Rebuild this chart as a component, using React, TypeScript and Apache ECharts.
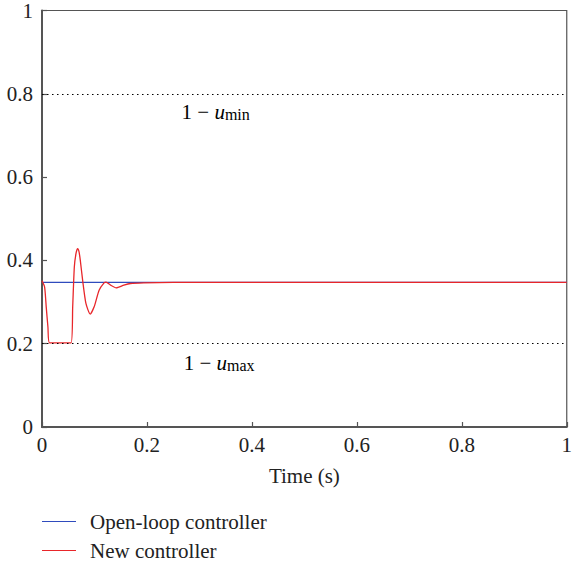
import React, { useEffect, useRef } from "react";
import * as echarts from "echarts";

// Open-loop controller (constant)
const timeOpenLoop = [0, 1];
const valueOpenLoop = [0.347, 0.347];

// New controller (transient)
const timeNew = [0, 0.005, 0.008, 0.0113, 0.0145, 0.0553, 0.0585, 0.0616, 0.065, 0.068, 0.0705, 0.073, 0.0774, 0.0837, 0.0918, 0.0994, 0.1088, 0.1183, 0.122, 0.1308, 0.1415, 0.156, 0.1686, 0.194, 0.25, 1];
const valueNew = [0.351, 0.336, 0.289, 0.24, 0.202, 0.202, 0.289, 0.384, 0.418, 0.4285, 0.421, 0.4, 0.3525, 0.2966, 0.271, 0.2885, 0.3285, 0.346, 0.348, 0.3405, 0.334, 0.3405, 0.3445, 0.346, 0.347, 0.347];

// Reference levels
const levelMin = 0.8; // 1 - u_min
const levelMax = 0.2; // 1 - u_max

const seriesNames = ["Open-loop controller", "New controller"];
const FONT = "Liberation Serif";
const FS = 21;

export default function App() {
  const ref = useRef<HTMLDivElement>(null);
  useEffect(() => {
    if (!ref.current) return;
    const chart = echarts.init(ref.current, undefined, { renderer: "svg" });
    const option: any = {
      animation: false,
      backgroundColor: "#fff",
      textStyle: { fontFamily: FONT },
      grid: {
        left: 42,
        right: 3,
        top: 10,
        bottom: 138,
        show: true,
        borderColor: "#555",
        borderWidth: 1.2,
      },
      legend: {
        orient: "vertical",
        left: 42,
        top: 511,
        padding: 0,
        height: 54,
        itemWidth: 34,
        itemHeight: 14,
        itemGap: 8,
        icon: "path://M0,6 L34,6 L34,7.2 L0,7.2 Z",
        textStyle: { fontFamily: FONT, fontSize: FS, color: "#222", padding: [0, 0, 0, 9] },
        data: seriesNames,
      },
      xAxis: {
        type: "value",
        min: 0,
        max: 1,
        interval: 0.2,
        name: "Time (s)",
        nameLocation: "middle",
        nameGap: 38,
        nameTextStyle: { fontFamily: FONT, fontSize: FS, color: "#222" },
        axisLine: { show: true, lineStyle: { color: "#555", width: 2 } },
        axisTick: { show: true, inside: true, length: 5, lineStyle: { color: "#555", width: 1.2 } },
        axisLabel: { fontFamily: FONT, fontSize: FS, color: "#222", margin: 7 },
        splitLine: { show: false },
      },
      yAxis: {
        type: "value",
        min: 0,
        max: 1,
        interval: 0.2,
        axisLine: { show: true, lineStyle: { color: "#555", width: 2 } },
        axisTick: { show: true, inside: true, length: 5, lineStyle: { color: "#555", width: 1.2 } },
        axisLabel: { fontFamily: FONT, fontSize: FS, color: "#222", margin: 9 },
        splitLine: { show: false },
      },
      series: [
        {
          name: seriesNames[0],
          type: "line",
          symbol: "none",
          color: "#2f4bbd",
          lineStyle: { width: 1.2, color: "#2f4bbd" },
          data: timeOpenLoop.map((t, i) => [t, valueOpenLoop[i]]),
          markLine: {
            silent: true,
            symbol: "none",
            label: { show: false },
            lineStyle: { type: [1.5, 3.5], color: "#000", width: 1 },
            data: [{ yAxis: levelMin }, { yAxis: levelMax }],
          },
        },
        {
          name: seriesNames[1],
          type: "line",
          symbol: "none",
          smooth: 0.2,
          color: "#e8262a",
          lineStyle: { width: 1.3, color: "#e8262a" },
          data: timeNew.map((t, i) => [t, valueNew[i]]),
        },
      ],
    };
    chart.setOption(option);

    const rich = {
      a: { fontFamily: FONT, fontSize: FS, color: "#222", lineHeight: 21 },
      u: { fontFamily: FONT, fontSize: FS, fontStyle: "italic", color: "#222", lineHeight: 21 },
      s: { fontFamily: FONT, fontSize: 16, color: "#222", lineHeight: 12, verticalAlign: "bottom" },
    };
    const p1 = chart.convertToPixel({ gridIndex: 0 }, [0.266, levelMin]);
    const p2 = chart.convertToPixel({ gridIndex: 0 }, [0.27, levelMax]);
    chart.setOption({
      graphic: [
        {
          type: "text",
          x: p1[0],
          y: p1[1] + 18,
          style: { text: "{a|1 − }{u|u}{s|min}", rich, verticalAlign: "middle", align: "left" },
        },
        {
          type: "text",
          x: p2[0],
          y: p2[1] + 19,
          style: { text: "{a|1 − }{u|u}{s|max}", rich, verticalAlign: "middle", align: "left" },
        },
      ],
    });
    return () => chart.dispose();
  }, []);
  return (
    <div
      ref={ref}
      style={{ position: "fixed", left: 0, top: 0, width: 575, height: 565, background: "#fff" }}
    />
  );
}
